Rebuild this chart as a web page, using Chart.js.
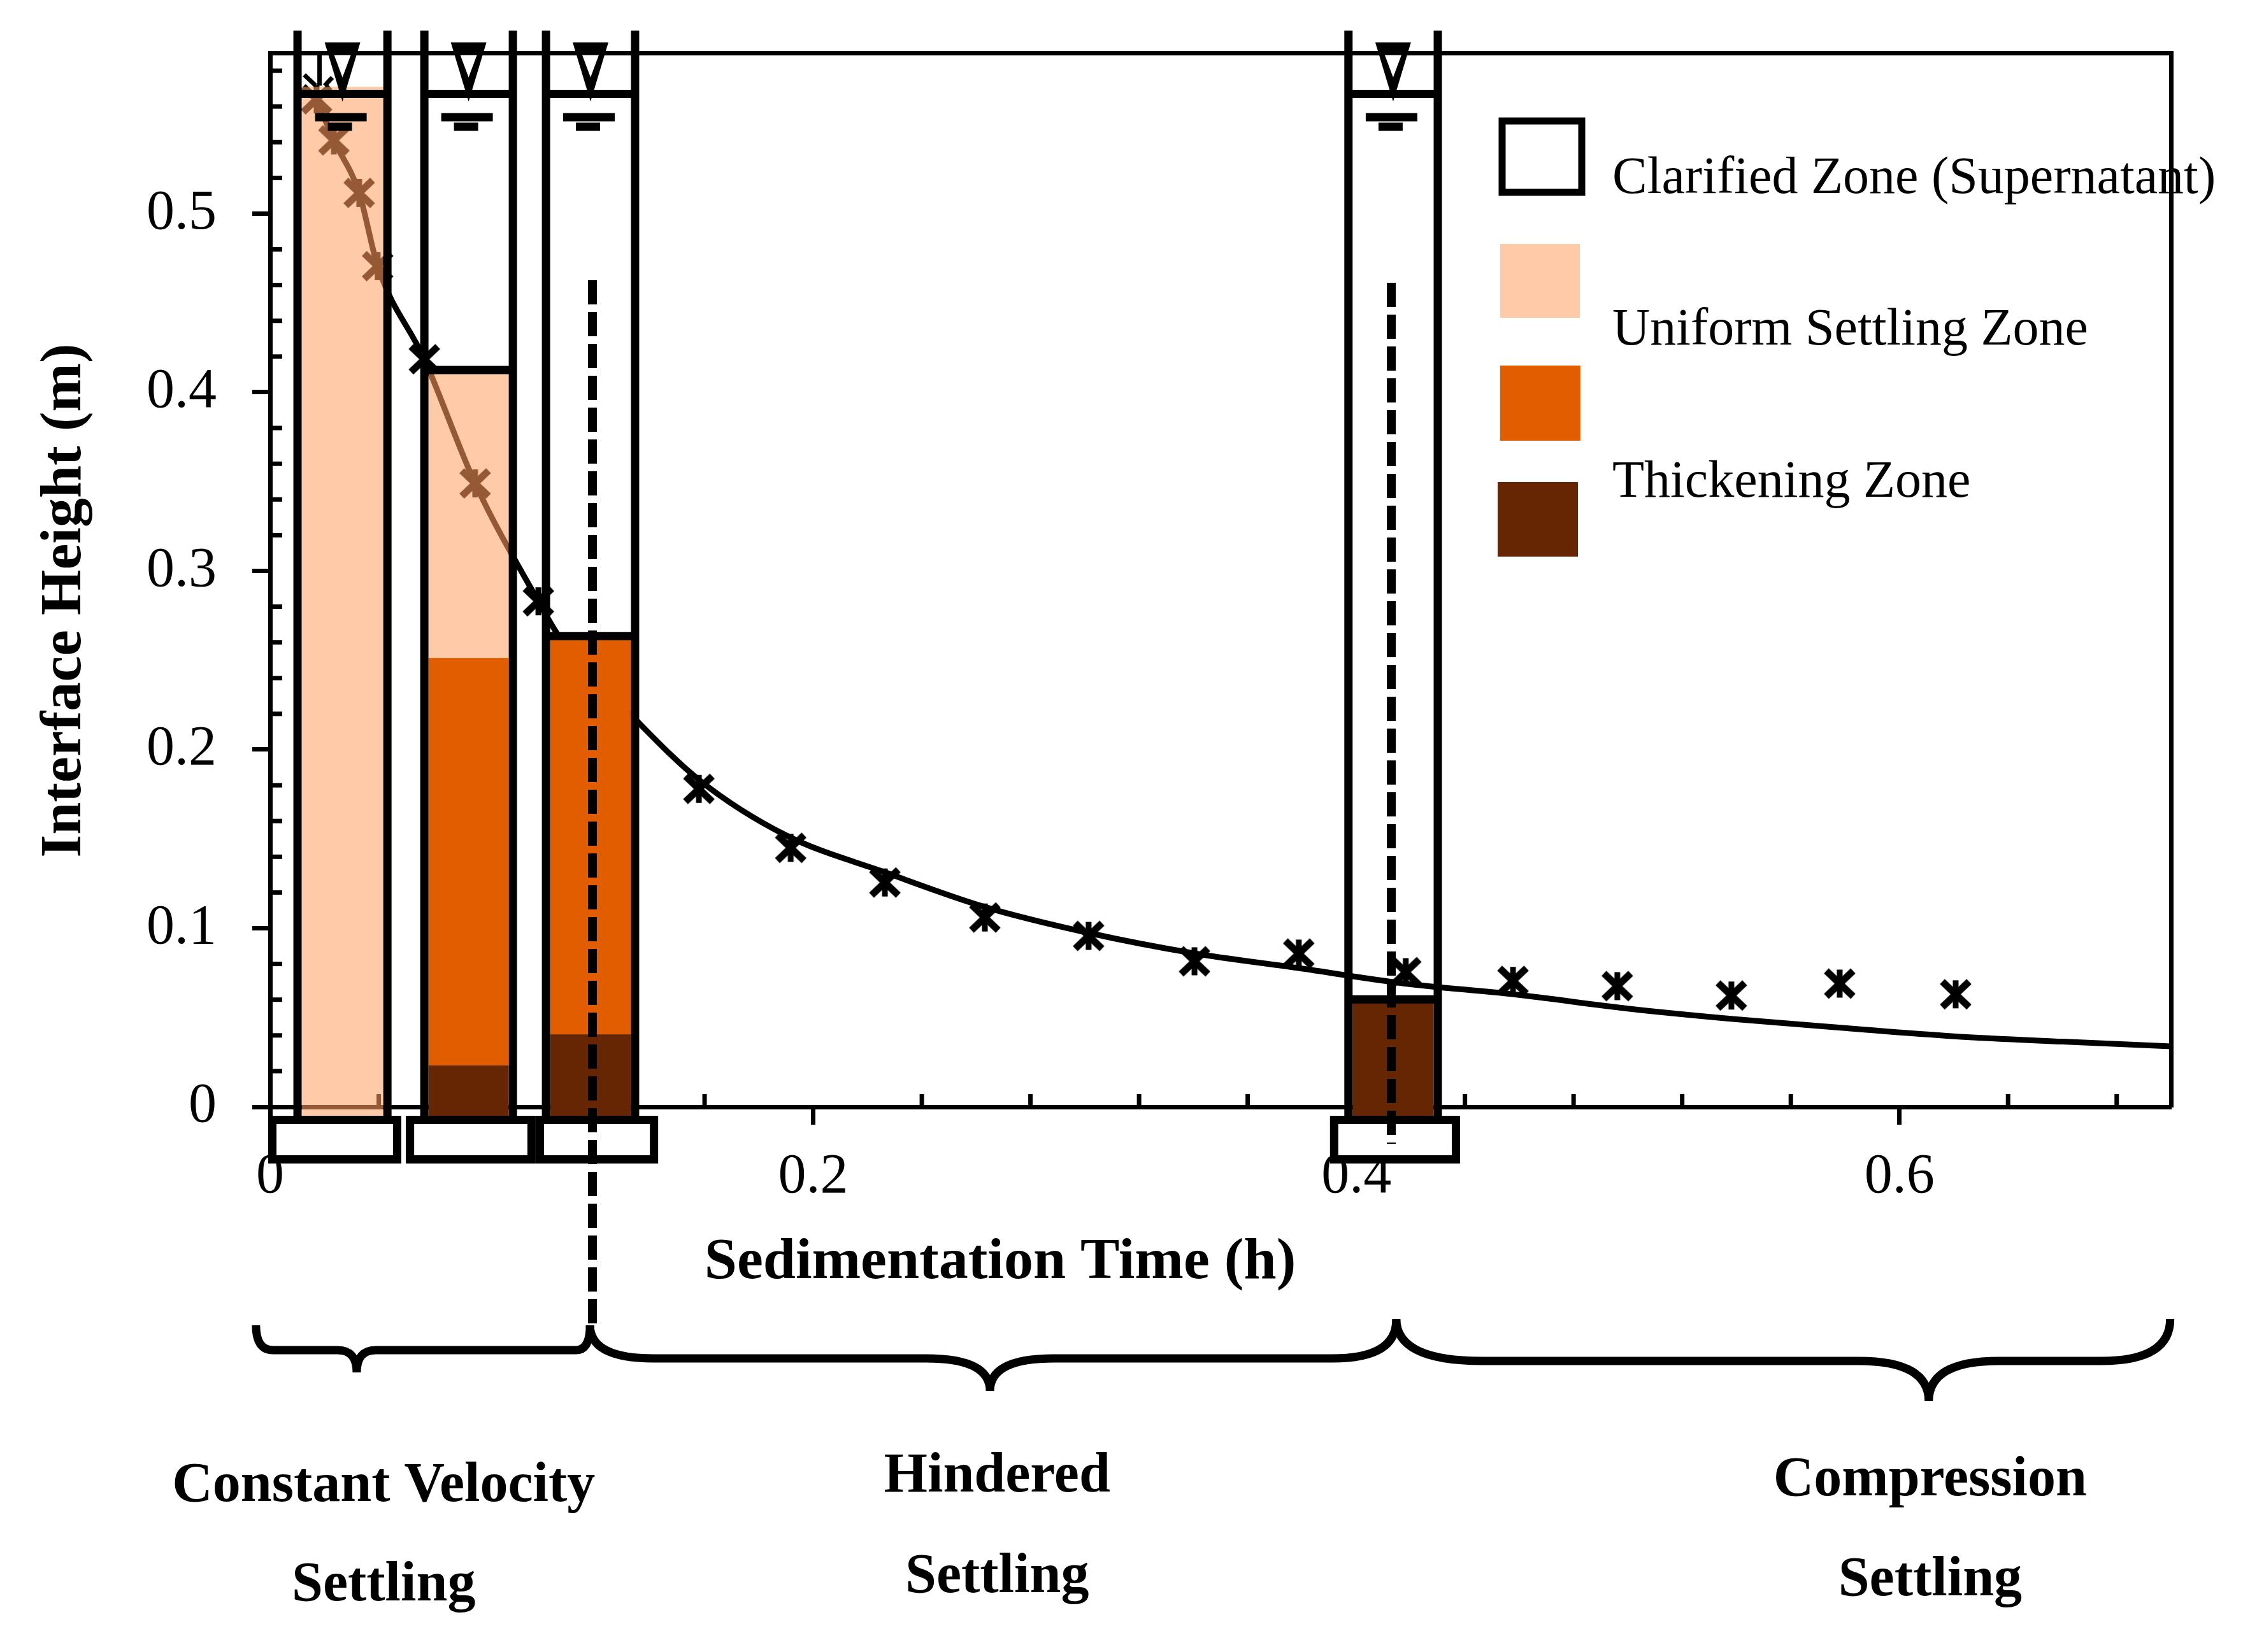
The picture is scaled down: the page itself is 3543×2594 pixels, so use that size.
<!DOCTYPE html>
<html>
<head>
<meta charset="utf-8">
<script src="https://cdn.jsdelivr.net/npm/chart.js@4.4.1/dist/chart.umd.min.js"></script>
<style>
  html, body { margin: 0; padding: 0; background: #fff; }
  canvas { display: block; }
</style>
</head>
<body>
<canvas id="settlingChart" width="3543" height="2594"></canvas>
<script>
// measured interface heights (m) against time (h)
const markerTime = [0.0171, 0.0235, 0.0328, 0.0396, 0.0568, 0.0755, 0.0988, 0.1579, 0.1917, 0.2264,
  0.2632, 0.3014, 0.3404, 0.3788, 0.4182, 0.4577, 0.4961, 0.5381, 0.578, 0.6207];
const markerHeight = [0.564, 0.541, 0.5116, 0.4706, 0.4185, 0.349, 0.283, 0.178, 0.145, 0.1256,
  0.106, 0.0957, 0.0815, 0.0858, 0.0754, 0.0705, 0.0676, 0.0623, 0.069, 0.063];

// settling curve
const curveTime = [0.0171, 0.0235, 0.0328, 0.0396, 0.0568, 0.0755, 0.0988, 0.107, 0.1346, 0.158, 0.19,
  0.227, 0.263, 0.301, 0.340, 0.379, 0.418, 0.458, 0.50, 0.54, 0.58, 0.62, 0.66, 0.70];
const curveHeight = [0.564, 0.541, 0.5116, 0.4706, 0.4185, 0.349, 0.283, 0.262, 0.2168, 0.183, 0.152,
  0.131, 0.112, 0.0975, 0.086, 0.0776, 0.069, 0.063, 0.055, 0.049, 0.0441, 0.0395, 0.0365, 0.0339];

// axis ticks
const xMajorTicks = [0, 0.2, 0.4, 0.6];
const xTickLabels = ['0', '0.2', '0.4', '0.6'];
const xMinorTicks = [0.04, 0.08, 0.12, 0.16, 0.24, 0.28, 0.32, 0.36, 0.44, 0.48, 0.52, 0.56, 0.64, 0.68];
const yMajorTicks = [0, 0.1, 0.2, 0.3, 0.4, 0.5];
const yTickLabels = ['0', '0.1', '0.2', '0.3', '0.4', '0.5'];
const yMinorTicks = [0.02, 0.04, 0.06, 0.08, 0.12, 0.14, 0.16, 0.18, 0.22, 0.24, 0.26, 0.28,
  0.32, 0.34, 0.36, 0.38, 0.42, 0.44, 0.46, 0.48, 0.52, 0.54, 0.56, 0.58];

// settling columns: walls (h) and zone tops (m)
const columnLeft = [0.0101, 0.0568, 0.1016, 0.3971];
const columnRight = [0.0432, 0.0894, 0.1344, 0.4300];
const interfaceLevel = [null, 0.4125, 0.2635, 0.0602];
const uniformTop = [0.571, 0.4125, null, null];
const hinderedTop = [null, 0.2513, 0.2635, null];
const thickeningTop = [null, 0.0232, 0.0406, 0.0602];
const waterLevel = 0.567;

// legend and settling regimes
const zoneLabels = ['Clarified Zone (Supernatant)', 'Uniform Settling Zone', 'Thickening Zone'];
const phaseLabels = [['Constant Velocity', 'Settling'], ['Hindered', 'Settling'], ['Compression', 'Settling']];
const phaseStart = [-0.0052, 0.1178, 0.4147];
const phaseEnd = [0.1178, 0.4147, 0.6997];
const phaseTip = [0.0319, 0.2651, 0.6108];
const phaseCenter = [0.0418, 0.2677, 0.6113];
const dividerTime = [0.1187, 0.4129];

const PEACH = '#fecaa8';
const ORANGE = '#e25d00';
const DARK = '#662503';
const BROWN = '#955935';
const SERIF = '"Liberation Serif", "Times New Roman", serif';

function makeMarker() {
  const c = document.createElement('canvas');
  c.width = 52; c.height = 52;
  const g = c.getContext('2d');
  g.strokeStyle = '#000';
  g.lineWidth = 11;
  g.beginPath();
  g.moveTo(5, 6); g.lineTo(47, 46);
  g.moveTo(47, 6); g.lineTo(5, 46);
  g.stroke();
  g.lineWidth = 9;
  g.beginPath();
  g.moveTo(26, 4); g.lineTo(26, 48);
  g.stroke();
  return c;
}

function line(ctx, x1, y1, x2, y2) {
  ctx.beginPath();
  ctx.moveTo(x1, y1);
  ctx.lineTo(x2, y2);
  ctx.stroke();
}

function drawBrace(ctx, x0, x1, xt, yTop0, yTop1, yBar, yTip, rL, rR, rT) {
  ctx.beginPath();
  ctx.moveTo(x0, yTop0);
  ctx.quadraticCurveTo(x0, yBar, x0 + rL, yBar);
  ctx.lineTo(xt - rT, yBar);
  ctx.quadraticCurveTo(xt, yBar, xt, yTip);
  ctx.moveTo(x1, yTop1);
  ctx.quadraticCurveTo(x1, yBar, x1 - rR, yBar);
  ctx.lineTo(xt + rT, yBar);
  ctx.quadraticCurveTo(xt, yBar, xt, yTip);
  ctx.stroke();
}

// scales must not push the plot area around
function noPadding(s) {
  s.paddingTop = 0; s.paddingBottom = 0; s.paddingLeft = 0; s.paddingRight = 0;
}

const columnsPlugin = {
  id: 'columns',
  beforeDatasetsDraw(chart) {
    const {ctx, chartArea, scales: {x, y}} = chart;
    ctx.save();
    ctx.strokeStyle = '#000';
    ctx.lineWidth = 7;
    xMinorTicks.forEach(v => {
      const px = x.getPixelForValue(v);
      line(ctx, px, chartArea.bottom, px, chartArea.bottom - 20);
    });
    yMinorTicks.forEach(v => {
      const py = y.getPixelForValue(v);
      line(ctx, chartArea.left, py, chartArea.left + 19, py);
    });
    ctx.restore();
  },
  afterDatasetsDraw(chart) {
    const {ctx, scales: {x, y}} = chart;
    const W = 13;
    const fillBottom = y.getPixelForValue(-0.005);
    ctx.save();

    // uniform settling zone: tint what lies under it, then slip the peach behind
    columnLeft.forEach((l, i) => {
      if (uniformTop[i] === null) return;
      const x0 = x.getPixelForValue(l) + W / 2;
      const x1 = x.getPixelForValue(columnRight[i]) - W / 2;
      const y0 = y.getPixelForValue(uniformTop[i]);
      const next = hinderedTop[i] !== null ? hinderedTop[i] : thickeningTop[i];
      const y1 = next !== null ? y.getPixelForValue(next) : fillBottom;
      ctx.globalCompositeOperation = 'source-atop';
      ctx.fillStyle = BROWN;
      ctx.fillRect(x0, y0, x1 - x0, y1 - y0);
      ctx.globalCompositeOperation = 'destination-over';
      ctx.fillStyle = PEACH;
      ctx.fillRect(x0, y0, x1 - x0, y1 - y0);
    });
    ctx.globalCompositeOperation = 'source-over';

    // hindered and thickening zones
    columnLeft.forEach((l, i) => {
      const x0 = x.getPixelForValue(l) + W / 2;
      const x1 = x.getPixelForValue(columnRight[i]) - W / 2;
      if (hinderedTop[i] !== null) {
        const y0 = y.getPixelForValue(hinderedTop[i]);
        const y1 = thickeningTop[i] !== null ? y.getPixelForValue(thickeningTop[i]) : fillBottom;
        ctx.fillStyle = ORANGE;
        ctx.fillRect(x0, y0, x1 - x0, y1 - y0);
      }
      if (thickeningTop[i] !== null) {
        const y0 = y.getPixelForValue(thickeningTop[i]);
        ctx.fillStyle = DARK;
        ctx.fillRect(x0, y0, x1 - x0, fillBottom - y0);
      }
    });

    // column walls, surface and interface lines
    ctx.strokeStyle = '#000';
    const wallTop = y.getPixelForValue(0.6025);
    const wallBottom = y.getPixelForValue(-0.0075);
    const surface = y.getPixelForValue(waterLevel);
    columnLeft.forEach((l, i) => {
      const xl = x.getPixelForValue(l);
      const xr = x.getPixelForValue(columnRight[i]);
      const xc = (xl + xr) / 2;
      ctx.lineWidth = W;
      line(ctx, xl, wallTop, xl, wallBottom + W / 2);
      line(ctx, xr, wallTop, xr, wallBottom + W / 2);
      line(ctx, xl, wallBottom, xr, wallBottom);
      line(ctx, xl, surface, xr, surface);
      if (interfaceLevel[i] !== null) {
        const yi = y.getPixelForValue(interfaceLevel[i]);
        line(ctx, xl, yi, xr, yi);
      }
      // water-level symbol
      ctx.fillStyle = '#000';
      ctx.beginPath();
      ctx.moveTo(xc - 28, surface - 81);
      ctx.lineTo(xc + 28, surface - 81);
      ctx.lineTo(xc, surface + 12);
      ctx.closePath();
      ctx.fill();
      ctx.fillStyle = '#fff';
      ctx.beginPath();
      ctx.moveTo(xc - 13, surface - 61);
      ctx.lineTo(xc + 13, surface - 61);
      ctx.lineTo(xc, surface - 26);
      ctx.closePath();
      ctx.fill();
      ctx.fillStyle = '#000';
      ctx.fillRect(xc - 43, surface + 30, 81, 13);
      ctx.fillRect(xc - 23, surface + 45, 38, 13);
    });

    // small arrow at the top of the first column
    const c0 = (x.getPixelForValue(columnLeft[0]) + x.getPixelForValue(columnRight[0])) / 2;
    ctx.lineWidth = 7;
    line(ctx, c0 - 36, surface - 61, c0 - 36, surface - 13);
    ctx.beginPath();
    ctx.moveTo(c0 - 60, surface - 30);
    ctx.lineTo(c0 - 42, surface - 13);
    ctx.moveTo(c0 - 16, surface - 26);
    ctx.lineTo(c0 - 28, surface - 13);
    ctx.stroke();

    // column bases
    const baseLeft = [-0.0007, 0.05, 0.0978, 0.3903];
    const baseRight = [0.0483, 0.0978, 0.1429, 0.4382];
    const bTop = y.getPixelForValue(-0.005);
    const bBot = y.getPixelForValue(-0.0317);
    baseLeft.forEach((l, i) => {
      const x0 = x.getPixelForValue(l);
      const x1 = x.getPixelForValue(baseRight[i]);
      ctx.fillStyle = '#fff';
      ctx.fillRect(x0 + W, bTop + W, x1 - x0 - 2 * W, bBot - bTop - 2 * W);
      ctx.lineWidth = W;
      ctx.strokeRect(x0 + W / 2, bTop + W / 2, x1 - x0 - W, bBot - bTop - W);
    });

    // regime dividers
    ctx.lineWidth = 14;
    ctx.setLineDash([38, 12]);
    line(ctx, x.getPixelForValue(dividerTime[0]), y.getPixelForValue(0.4627),
      x.getPixelForValue(dividerTime[0]), 2081);
    line(ctx, x.getPixelForValue(dividerTime[1]), y.getPixelForValue(0.4613),
      x.getPixelForValue(dividerTime[1]), y.getPixelForValue(-0.0207));
    ctx.setLineDash([]);

    // braces and regime names
    ctx.lineWidth = 13;
    ctx.lineCap = 'butt';
    const braceGeom = [
      [2081, 2081, 2120, 2155, 27, 22, 30],
      [2081, 2073, 2133, 2184, 100, 100, 100],
      [2071, 2071, 2137, 2200, 135, 108, 110]
    ];
    phaseStart.forEach((s, i) => {
      const g = braceGeom[i];
      drawBrace(ctx, x.getPixelForValue(s), x.getPixelForValue(phaseEnd[i]), x.getPixelForValue(phaseTip[i]),
        g[0], g[1], g[2], g[3], g[4], g[5], g[6]);
    });
    ctx.fillStyle = '#000';
    ctx.font = 'bold 88px ' + SERIF;
    ctx.textAlign = 'center';
    ctx.textBaseline = 'alphabetic';
    const firstLine = [2357, 2342, 2348];
    const secondLine = [2513, 2500, 2505];
    phaseLabels.forEach((p, i) => {
      const cx = x.getPixelForValue(phaseCenter[i]);
      ctx.fillText(p[0], cx, firstLine[i]);
      ctx.fillText(p[1], cx, secondLine[i]);
    });

    // axis titles
    ctx.font = 'bold 92px ' + SERIF;
    ctx.fillText('Sedimentation Time (h)', 1570, 2007);
    ctx.save();
    ctx.translate(126, 943);
    ctx.rotate(-Math.PI / 2);
    ctx.fillText('Interface Height (m)', 0, 0);
    ctx.restore();

    // legend
    ctx.textAlign = 'left';
    ctx.font = '82px ' + SERIF;
    ctx.lineWidth = 11;
    ctx.strokeRect(2358, 190, 125, 112);
    ctx.fillStyle = PEACH;
    ctx.fillRect(2355, 383, 125, 116);
    ctx.fillStyle = ORANGE;
    ctx.fillRect(2355, 574, 126, 118);
    ctx.fillStyle = DARK;
    ctx.fillRect(2351, 757, 126, 117);
    ctx.fillStyle = '#000';
    ctx.fillText(zoneLabels[0], 2531, 303);
    ctx.fillText(zoneLabels[1], 2531, 541);
    ctx.fillText(zoneLabels[2], 2531, 780);

    ctx.restore();
  }
};

const frame = {
  display: true,
  min: 0,
  grid: { display: false },
  border: { display: true, color: '#000', width: 7 },
  ticks: { display: false }
};

new Chart(document.getElementById('settlingChart').getContext('2d'), {
  type: 'scatter',
  data: {
    datasets: [
      {
        label: 'Settling curve',
        data: curveTime.map((t, i) => ({ x: t, y: curveHeight[i] })),
        showLine: true,
        borderColor: '#000',
        borderWidth: 9,
        pointRadius: 0,
        cubicInterpolationMode: 'monotone',
        fill: false,
        order: 2
      },
      {
        label: 'Measured',
        data: markerTime.map((t, i) => ({ x: t, y: markerHeight[i] })),
        showLine: false,
        pointStyle: makeMarker(),
        pointRadius: 24,
        order: 1
      }
    ]
  },
  options: {
    responsive: false,
    animation: false,
    devicePixelRatio: 1,
    layout: { padding: { left: 0, top: 83, right: 135, bottom: 0 } },
    plugins: { legend: { display: false }, tooltip: { enabled: false } },
    scales: {
      x: {
        type: 'linear', position: 'bottom', min: 0, max: 0.7,
        afterBuildTicks: s => { s.ticks = xMajorTicks.map(v => ({ value: v })); },
        afterFit: s => { s.height = 856; noPadding(s); },
        grid: { display: true, drawOnChartArea: false, drawTicks: true, tickLength: 28, tickWidth: 7, tickColor: '#000' },
        border: { display: true, color: '#000', width: 7 },
        ticks: {
          color: '#000', padding: 30, maxRotation: 0, autoSkip: false,
          font: { family: SERIF, size: 88 },
          callback: (v, i) => xTickLabels[i]
        }
      },
      y: {
        type: 'linear', position: 'left', min: 0, max: 0.59,
        afterBuildTicks: s => { s.ticks = yMajorTicks.map(v => ({ value: v })); },
        afterFit: s => { s.width = 424; noPadding(s); },
        grid: { display: true, drawOnChartArea: false, drawTicks: true, tickLength: 28, tickWidth: 7, tickColor: '#000' },
        border: { display: true, color: '#000', width: 7 },
        ticks: {
          color: '#000', padding: 56, autoSkip: false,
          font: { family: SERIF, size: 88 },
          callback: (v, i) => yTickLabels[i]
        }
      },
      xTop: Object.assign({}, frame, { type: 'linear', position: 'top', max: 0.7, afterFit: s => { s.height = 0; noPadding(s); } }),
      yRight: Object.assign({}, frame, { type: 'linear', position: 'right', max: 0.59, afterFit: s => { s.width = 0; noPadding(s); } })
    }
  },
  plugins: [columnsPlugin]
});
</script>
</body>
</html>
